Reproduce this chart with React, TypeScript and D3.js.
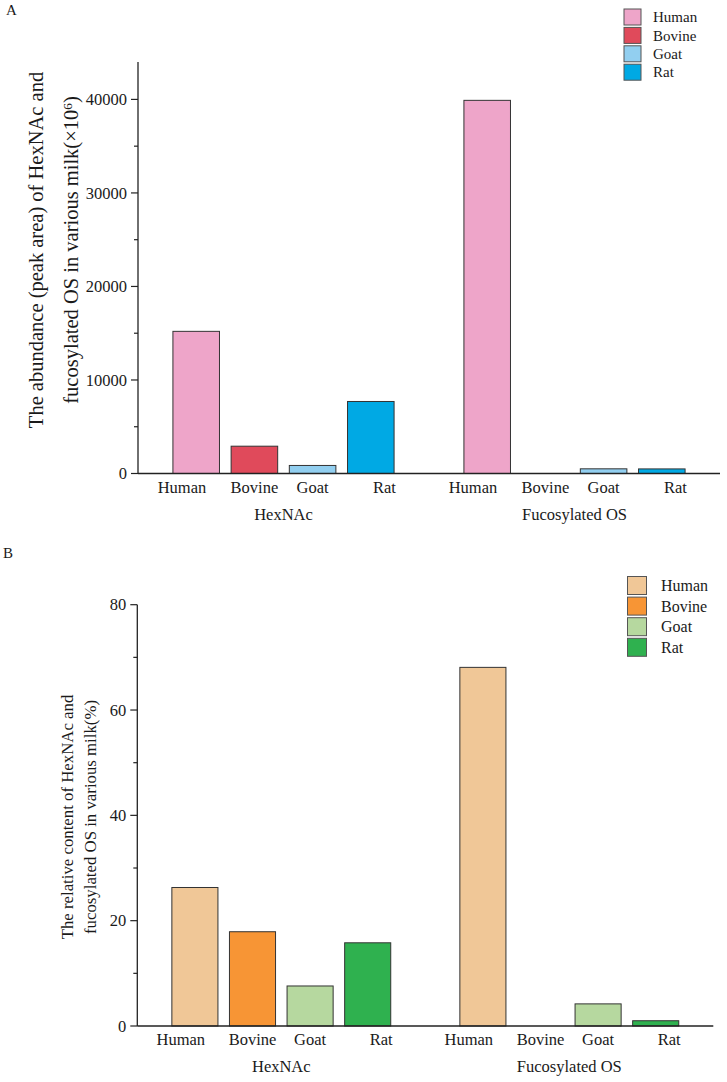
import React from "react";
import * as d3 from "d3";

const categories = ["Human", "Bovine", "Goat", "Rat"];
const groups = ["HexNAc", "Fucosylated OS"];
const abundanceHexNAc = [15200, 2920, 860, 7700];
const abundanceFuco = [39900, 0, 500, 490];
const relativeHexNAc = [26.3, 17.9, 7.6, 15.8];
const relativeFuco = [68.1, 0, 4.2, 1.0];
const ticksA = [0, 10000, 20000, 30000, 40000];
const ticksB = [0, 20, 40, 60, 80];

const colorsA = ["#EEA5C9", "#E04A5B", "#92CFF0", "#00A9E4"];
const colorsB = ["#F0C797", "#F79535", "#B6D89F", "#2FB14F"];
const labelNudge = [-0.245, 0, 0, 0.235];
const FONT = "'Liberation Serif', 'Times New Roman', serif";

type PanelProps = {
  letter: string;
  letterPos: [number, number];
  hex: number[];
  fuco: number[];
  colors: string[];
  yMax: number;
  ticks: number[];
  minorStep: number;
  xRange: [number, number];
  yRange: [number, number];
  tickFmt: (v: number) => string;
  titleLines: React.ReactNode[];
  titleX: number[];
  titleCY: number;
  titleSize: number;
  tickSize: number;
  labelSize: number;
  xLabelY: number;
  groupLabelY: number;
  legend: { x: number; y: number; w: number; h: number; step: number; size: number; textX: number };
};

function Panel(p: PanelProps) {
  const x = d3.scaleLinear().domain([-1, 9]).range(p.xRange);
  const y = d3.scaleLinear().domain([0, p.yMax]).range(p.yRange);
  const slot = x(1) - x(0);
  const bw = slot * 0.8;
  const minor = d3.range(p.minorStep, p.yMax, p.minorStep * 2);
  const series = [p.hex, p.fuco];
  const [x0, x1] = p.xRange;
  return (
    <g fontFamily={FONT} fill="#1a1a1a">
      <text x={p.letterPos[0]} y={p.letterPos[1]} fontSize={15}>{p.letter}</text>
      {series.map((vals, g) =>
        vals.map((v, i) => {
          const k = g * 5 + i;
          if (v <= 0) return null;
          return (
            <rect
              key={`b${g}-${i}`}
              x={x(k) - bw / 2}
              y={y(v)}
              width={bw}
              height={y(0) - y(v)}
              fill={p.colors[i]}
              stroke="#333"
              strokeWidth={1}
            />
          );
        })
      )}
      <line x1={x0} x2={x1} y1={y(0)} y2={y(0)} stroke="#222" strokeWidth={1.3} />
      <line x1={x0} x2={x0} y1={y(0)} y2={y(p.yMax)} stroke="#222" strokeWidth={1.3} />
      {p.ticks.map((t) => (
        <g key={`t${t}`}>
          <line x1={x0 - 7} x2={x0} y1={y(t)} y2={y(t)} stroke="#222" strokeWidth={1.2} />
          <text x={x0 - 11} y={y(t)} dy="0.34em" textAnchor="end" fontSize={p.tickSize}>
            {p.tickFmt(t)}
          </text>
        </g>
      ))}
      {minor.map((t) => (
        <line key={`m${t}`} x1={x0 - 4} x2={x0} y1={y(t)} y2={y(t)} stroke="#222" strokeWidth={1.2} />
      ))}
      {groups.map((gname, g) => (
        <g key={`g${g}`}>
          {categories.map((c, i) => (
            <text
              key={`l${g}-${i}`}
              x={x(g * 5 + i + labelNudge[i])}
              y={p.xLabelY}
              textAnchor="middle"
              fontSize={p.labelSize}
            >
              {c}
            </text>
          ))}
          <text x={x(g * 5 + 1.5)} y={p.groupLabelY} textAnchor="middle" fontSize={p.labelSize}>
            {gname}
          </text>
        </g>
      ))}
      {p.titleLines.map((line, li) => (
        <text
          key={`yt${li}`}
          transform={`translate(${p.titleX[li]},${p.titleCY}) rotate(-90)`}
          textAnchor="middle"
          fontSize={p.titleSize}
        >
          {line}
        </text>
      ))}
      {categories.map((c, i) => (
        <g key={`lg${i}`}>
          <rect
            x={p.legend.x}
            y={p.legend.y + i * p.legend.step}
            width={p.legend.w}
            height={p.legend.h}
            fill={p.colors[i]}
            stroke="#555"
            strokeWidth={1}
          />
          <text
            x={p.legend.textX}
            y={p.legend.y + i * p.legend.step + p.legend.h / 2}
            dy="0.35em"
            fontSize={p.legend.size}
          >
            {c}
          </text>
        </g>
      ))}
    </g>
  );
}

export default function App() {
  const titleA2 = (
    <>
      {"fucosylated OS in various milk(\u00d710"}
      <tspan dy="-0.45em" fontSize="0.65em">6</tspan>
      <tspan dy="0.3em">)</tspan>
    </>
  );
  return (
    <svg
      width={727}
      height={1082}
      style={{ position: "absolute", left: 0, top: 0, background: "#fff" }}
    >
      <Panel
        letter="A"
        letterPos={[6, 15]}
        hex={abundanceHexNAc}
        fuco={abundanceFuco}
        colors={colorsA}
        yMax={44000}
        ticks={ticksA}
        minorStep={5000}
        xRange={[138, 720]}
        yRange={[473.5, 62]}
        tickFmt={(v) => String(v)}
        titleLines={["The abundance (peak area) of HexNAc and", titleA2]}
        titleX={[43, 77.5]}
        titleCY={250}
        titleSize={20.5}
        tickSize={16.5}
        labelSize={16.5}
        xLabelY={492.7}
        groupLabelY={520}
        legend={{ x: 624, y: 9, w: 17, h: 16, step: 18.4, size: 15, textX: 653 }}
      />
      <Panel
        letter="B"
        letterPos={[3, 558]}
        hex={relativeHexNAc}
        fuco={relativeFuco}
        colors={colorsB}
        yMax={80}
        ticks={ticksB}
        minorStep={10}
        xRange={[137.3, 713.3]}
        yRange={[1026, 604.7]}
        tickFmt={(v) => String(v)}
        titleLines={["The relative content of HexNAc and", "fucosylated OS in various milk(%)"]}
        titleX={[72.5, 96]}
        titleCY={817}
        titleSize={16.8}
        tickSize={16.5}
        labelSize={16.5}
        xLabelY={1045}
        groupLabelY={1072.3}
        legend={{ x: 627.5, y: 576.5, w: 19, h: 18, step: 20.6, size: 16, textX: 661 }}
      />
    </svg>
  );
}
